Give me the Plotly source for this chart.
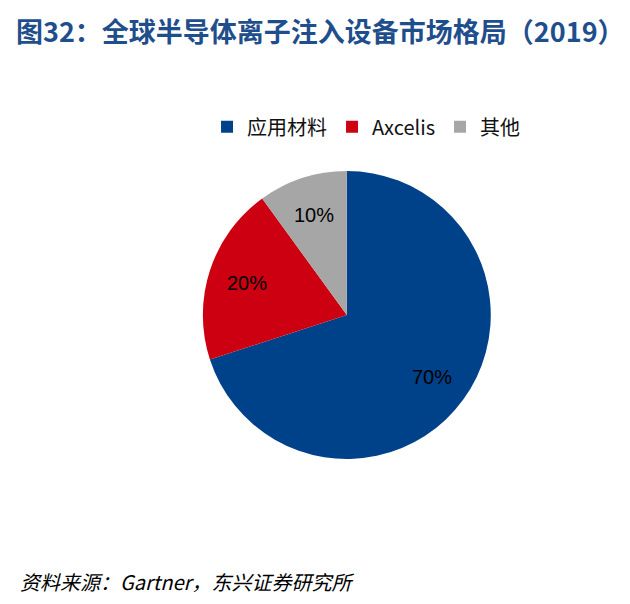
import math
import plotly.graph_objects as go

# 2019 ion implant equipment market share
labels = ["应用材料", "Axcelis", "其他"]
shares = [70, 20, 10]
colors = ["#00428A", "#CC0010", "#A6A6A6"]

title_text = "图32：全球半导体离子注入设备市场格局（2019）"
source_text = "资料来源：Gartner，东兴证券研究所"

W, H = 630, 604
dom_x = [0.322, 0.779]
dom_y = [0.240, 0.717]

fig = go.Figure()
fig.add_pie(
    labels=labels,
    values=shares,
    sort=False,
    direction="clockwise",
    rotation=0,
    marker=dict(colors=colors, line=dict(width=0)),
    textinfo="none",
    hoverinfo="label+percent",
    domain=dict(x=dom_x, y=dom_y),
)

# percent labels sit at ~73% of the radius, on each slice's middle angle
cx = (dom_x[0] + dom_x[1]) / 2 * W
cy = (dom_y[0] + dom_y[1]) / 2 * H
R = (dom_x[1] - dom_x[0]) * W / 2
total = sum(shares)
start = 0.0
annots = []
for v in shares:
    mid = (start + v / 2) / total * 2 * math.pi
    start += v
    px = cx + 0.73 * R * math.sin(mid)
    py = cy + 0.73 * R * math.cos(mid)
    annots.append(dict(
        text=f"{v}%", x=px / W, y=py / H, xref="paper", yref="paper",
        showarrow=False, xanchor="center", yanchor="middle",
        font=dict(family="Liberation Sans, Arial", size=20, color="black"),
    ))

annots += [
    dict(
        text="<b>" + title_text + "</b>",
        x=0.022, y=1 - 30 / H, xref="paper", yref="paper",
        xanchor="left", yanchor="middle", showarrow=False,
        font=dict(family="Noto Sans CJK SC", size=27, color="#1F4E8C"),
    ),
    dict(
        text="<i>" + source_text + "</i>",
        x=0.028, y=1 - 581 / H, xref="paper", yref="paper",
        xanchor="left", yanchor="middle", showarrow=False,
        font=dict(family="Noto Sans CJK SC, Liberation Sans", size=20, color="black"),
    ),
]

fig.update_layout(
    width=W,
    height=H,
    margin=dict(l=0, r=0, t=0, b=0),
    paper_bgcolor="white",
    plot_bgcolor="white",
    showlegend=True,
    legend=dict(
        orientation="h",
        x=0.581, xanchor="center",
        y=0.79, yanchor="middle",
        font=dict(family="Noto Sans CJK SC, Liberation Sans", size=20, color="#111111"),
        itemwidth=30,
        traceorder="normal",
    ),
    annotations=annots,
)

# drop the default page margin so the figure sits at the window corner
fig.write_html("out.html", config={"displayModeBar": False},
               post_script="document.body.style.margin='0';")
